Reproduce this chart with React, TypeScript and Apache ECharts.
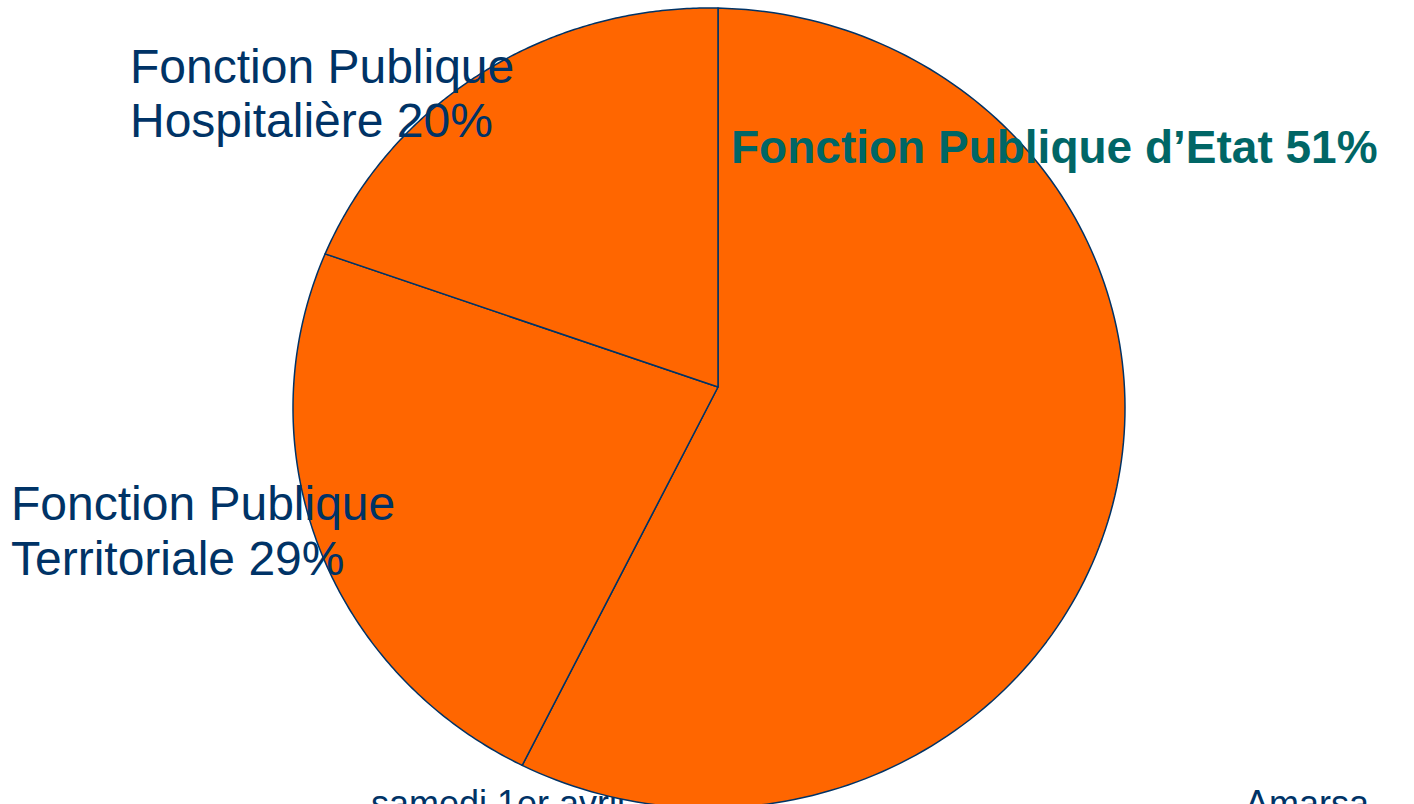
import React, { useEffect, useRef } from "react";
import * as echarts from "echarts";

// ---- data ----
const categories = [
  "Fonction Publique d\u2019Etat",
  "Fonction Publique Territoriale",
  "Fonction Publique Hospitali\u00e8re",
];
// angular share of each slice as drawn in the picture (clockwise from 12 o'clock)
const sliceShares = [57.6, 22.6, 19.8];
// percentages printed in the labels
const labelPercents = [51, 29, 20];
const footerTexts = ["samedi 1er avril", "Amarsa"];

// ---- geometry / style ----
const CX = 709, CY = 408, RX = 416, RY = 400; // outline ellipse
const PX = 718, PY = 387; // meeting point of the slices
const ORANGE = "#FF6600";
const NAVY = "#003366";
const TEAL = "#006666";
const FONT = "'Liberation Sans', Arial, sans-serif";

function rayHit(theta: number): [number, number] {
  const dx = Math.sin(theta), dy = -Math.cos(theta);
  const ux = (PX - CX) / RX, uy = (PY - CY) / RY;
  const vx = dx / RX, vy = dy / RY;
  const a = vx * vx + vy * vy;
  const b = 2 * (ux * vx + uy * vy);
  const c = ux * ux + uy * uy - 1;
  const t = (-b + Math.sqrt(b * b - 4 * a * c)) / (2 * a);
  return [PX + dx * t, PY + dy * t];
}
function paramOf(p: [number, number]) {
  return Math.atan2((p[0] - CX) / RX, -(p[1] - CY) / RY);
}

export default function App() {
  const ref = useRef<HTMLDivElement>(null);
  useEffect(() => {
    if (!ref.current) return;
    const chart = echarts.init(ref.current, null, { renderer: "svg" });
    const total = sliceShares.reduce((s, v) => s + v, 0);

    const labelText = (i: number) => {
      const base = `${categories[i]} ${labelPercents[i]}%`;
      return i === 0 ? base : base.replace("Publique ", "Publique\n");
    };

    chart.setOption({
      animation: false,
      backgroundColor: "#ffffff",
      series: [
        {
          type: "custom",
          coordinateSystem: "none",
          silent: true,
          z: 5,
          data: sliceShares,
          renderItem: (params: any, api: any) => {
            const i = params.dataIndex;
            let before = 0;
            for (let k = 0; k < i; k++) before += sliceShares[k];
            const v = api.value(0);
            const a0 = (before / total) * Math.PI * 2;
            const a1 = ((before + v) / total) * Math.PI * 2;
            const p0 = rayHit(a0);
            const p1 = rayHit(a1);
            let f0 = paramOf(p0);
            let f1 = paramOf(p1);
            while (f1 < f0) f1 += Math.PI * 2;
            const pts: number[][] = [[PX, PY]];
            const n = 160;
            for (let s = 0; s <= n; s++) {
              const f = f0 + ((f1 - f0) * s) / n;
              pts.push([CX + RX * Math.sin(f), CY - RY * Math.cos(f)]);
            }
            return {
              type: "polygon",
              shape: { points: pts },
              style: {
                fill: ORANGE,
                stroke: NAVY,
                lineWidth: 1.5,
                lineJoin: "round",
              },
            };
          },
        },
      ],
      graphic: [
        {
          type: "text",
          z: 1,
          style: {
            text: footerTexts[0],
            x: 371,
            y: 803,
            font: `36px ${FONT}`,
            fill: NAVY,
            verticalAlign: "middle",
          },
        },
        {
          type: "text",
          z: 1,
          style: {
            text: footerTexts[1],
            x: 1245,
            y: 803,
            font: `36px ${FONT}`,
            fill: NAVY,
            verticalAlign: "middle",
          },
        },
        {
          type: "text",
          z: 100,
          style: {
            text: labelText(0),
            x: 731,
            y: 147,
            font: `bold 46px ${FONT}`,
            fill: TEAL,
            verticalAlign: "middle",
          },
        },
        {
          type: "text",
          z: 100,
          style: {
            text: labelText(1),
            x: 11,
            y: 476,
            font: `48px ${FONT}`,
            fill: NAVY,
            lineHeight: 55,
            verticalAlign: "top",
          },
        },
        {
          type: "text",
          z: 100,
          style: {
            text: labelText(2),
            x: 130,
            y: 39,
            font: `48px ${FONT}`,
            fill: NAVY,
            lineHeight: 54,
            verticalAlign: "top",
          },
        },
      ],
    });
    return () => chart.dispose();
  }, []);
  return (
    <div
      ref={ref}
      style={{ position: "absolute", left: 0, top: 0, width: 1414, height: 804 }}
    />
  );
}
